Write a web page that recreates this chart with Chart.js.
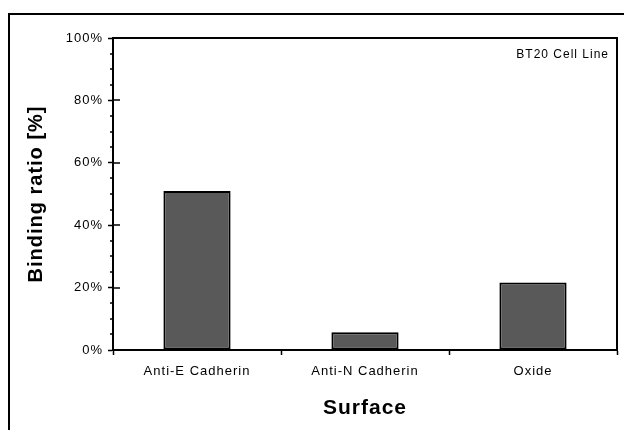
<!DOCTYPE html>
<html><head><meta charset="utf-8">
<script src="https://cdn.jsdelivr.net/npm/chart.js@4"></script>
<style>html,body{margin:0;padding:0;background:#fff;overflow:hidden}</style>
</head><body>
<canvas id="c" width="624" height="430"></canvas>
<script>
const categories = ['Anti-E Cadherin', 'Anti-N Cadherin', 'Oxide'];
const bindingRatio = [51.0, 5.7, 21.6];
const yTicks = [0, 20, 40, 60, 80, 100];
const yMinorTicks = [5, 10, 15, 25, 30, 35, 45, 50, 55, 65, 70, 75, 85, 90, 95];
const annotationText = 'BT20 Cell Line';
const xTitle = 'Surface';
const yTitle = 'Binding ratio [%]';

const FONT = '"Liberation Sans", Arial, sans-serif';
const spacing = c => { try { c.ctx.letterSpacing = '1px'; } catch (e) {} };

const decor = {
  id: 'decor',
  beforeUpdate(c) { spacing(c); },
  beforeLayout(c) { spacing(c); },
  beforeDraw(c) {
    const ctx = c.ctx; spacing(c);
    ctx.save();
    ctx.fillStyle = '#fff'; ctx.fillRect(0, 0, c.width, c.height);
    ctx.strokeStyle = '#000'; ctx.lineWidth = 2;
    ctx.strokeRect(9, 14, c.width + 20, c.height + 20);
    ctx.restore();
  },
  afterDraw(c) {
    const ctx = c.ctx, a = c.chartArea, y = c.scales.y;
    ctx.save();
    ctx.strokeStyle = '#000'; ctx.lineWidth = 2;
    ctx.beginPath();
    ctx.moveTo(a.left, a.top); ctx.lineTo(a.right, a.top); ctx.lineTo(a.right, a.bottom);
    ctx.stroke();
    ctx.lineWidth = 1.5;
    ctx.beginPath();
    yMinorTicks.forEach(v => { const py = Math.round(y.getPixelForValue(v)); ctx.moveTo(a.left - 3, py); ctx.lineTo(a.left, py); });
    yTicks.forEach(v => { const py = Math.round(y.getPixelForValue(v)); ctx.moveTo(a.left, py); ctx.lineTo(a.left + 7, py); });
    ctx.stroke();
    ctx.font = '12px ' + FONT; ctx.fillStyle = '#000';
    ctx.textAlign = 'right'; ctx.textBaseline = 'middle';
    ctx.fillText(annotationText, a.right - 8, a.top + 17);
    ctx.restore();
  }
};

new Chart(document.getElementById('c'), {
  type: 'bar',
  data: {
    labels: categories,
    datasets: [{
      data: bindingRatio,
      backgroundColor: '#595959',
      borderColor: '#000',
      borderWidth: 2,
      borderSkipped: false,
      barPercentage: 0.4,
      categoryPercentage: 1
    }]
  },
  options: {
    responsive: false,
    animation: false,
    layout: { padding: { left: 0, top: 38, right: 7, bottom: 0 } },
    plugins: { legend: { display: false }, tooltip: { enabled: false } },
    scales: {
      x: {
        afterFit(s) { s.height = 80; },
        grid: { offset: true, drawOnChartArea: false, tickLength: 5, tickColor: '#000', tickWidth: 1.5 },
        border: { color: '#000', width: 2 },
        ticks: { font: { family: FONT, size: 13 }, color: '#000', padding: 9, maxRotation: 0 },
        title: { display: true, text: xTitle, color: '#000', font: { family: FONT, size: 21, weight: 'bold' }, padding: { top: 0, bottom: 9 } }
      },
      y: {
        min: 0, max: 100,
        afterFit(s) { s.width = 113; },
        afterBuildTicks(s) { s.ticks = yTicks.map(v => ({ value: v })); },
        grid: { drawOnChartArea: false, tickLength: 5, tickColor: '#000', tickWidth: 1.5 },
        border: { color: '#000', width: 2 },
        ticks: { font: { family: FONT, size: 13 }, color: '#000', padding: 5, callback: v => v + '%' },
        title: { display: true, text: yTitle, color: '#000', font: { family: FONT, size: 20, weight: 'bold' }, padding: { top: 24, bottom: 0 } }
      }
    }
  },
  plugins: [decor]
});
</script>
</body></html>
